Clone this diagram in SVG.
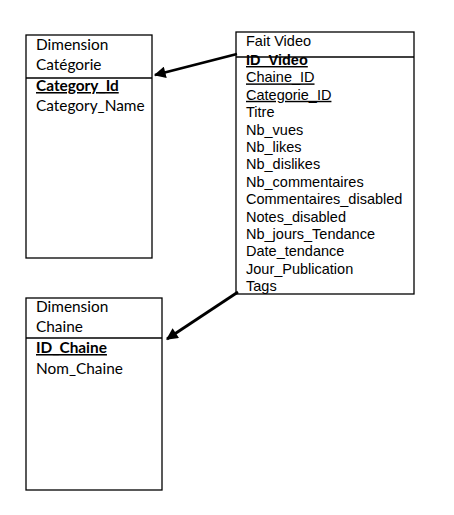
<svg xmlns="http://www.w3.org/2000/svg" width="454" height="515" viewBox="0 0 454 515">
<style>
.box{fill:#fff;stroke:#000;stroke-width:1.3}
.div{stroke:#000;stroke-width:1.3}
.c{font-family:Lato,"Liberation Sans",sans-serif;font-size:15.4px;fill:#000}
.a{font-family:"Liberation Sans",Arial,sans-serif;font-size:14.5px;fill:#000}
.b{font-weight:bold;text-decoration:underline}
.u{text-decoration:underline}
.conn{stroke:#000;stroke-width:2.8;fill:none;marker-end:url(#ah)}
</style>
<defs>
<marker id="ah" viewBox="0 0 10 10" refX="9" refY="5" markerWidth="4.5" markerHeight="4.2" orient="auto" markerUnits="strokeWidth">
<path d="M0,0 L10,5 L0,10 z" fill="#000"/>
</marker>
</defs>
<rect width="454" height="515" fill="#fff"/>
<g id="dim-categorie">
<rect class="box" x="26" y="35" width="126" height="223"/>
<line class="div" x1="26" y1="78" x2="152" y2="78"/>
<text class="c" x="36" y="50">Dimension</text>
<text class="c" x="36" y="70">Catégorie</text>
<text class="c b" x="36" y="91">Category_Id</text>
<text class="c" x="36" y="111">Category_Name</text>
</g>
<g id="fait-video">
<rect class="box" x="236" y="32" width="178" height="262"/>
<line class="div" x1="236" y1="57" x2="414" y2="57"/>
<text class="a" x="246" y="46">Fait Video</text>
<text class="a b" x="246" y="65">ID_Video</text>
<text class="a u" x="246" y="82.4">Chaine_ID</text>
<text class="a u" x="246" y="99.8">Categorie_ID</text>
<text class="a" x="246" y="117.2">Titre</text>
<text class="a" x="246" y="134.6">Nb_vues</text>
<text class="a" x="246" y="152">Nb_likes</text>
<text class="a" x="246" y="169.4">Nb_dislikes</text>
<text class="a" x="246" y="186.8">Nb_commentaires</text>
<text class="a" x="246" y="204.2">Commentaires_disabled</text>
<text class="a" x="246" y="221.6">Notes_disabled</text>
<text class="a" x="246" y="239">Nb_jours_Tendance</text>
<text class="a" x="246" y="256.4">Date_tendance</text>
<text class="a" x="246" y="273.8">Jour_Publication</text>
<text class="a" x="246" y="291.2">Tags</text>
</g>
<g id="dim-chaine">
<rect class="box" x="26" y="298" width="136" height="192"/>
<line class="div" x1="26" y1="338" x2="162" y2="338"/>
<text class="c" x="36" y="312">Dimension</text>
<text class="c" x="36" y="332">Chaine</text>
<text class="c b" x="36" y="353">ID_Chaine</text>
<text class="c" x="36" y="374">Nom_Chaine</text>
</g>
<g id="connectors">
<line class="conn" x1="237" y1="54" x2="155" y2="75"/>
<line class="conn" x1="238" y1="292" x2="167" y2="339"/>
</g>
</svg>
